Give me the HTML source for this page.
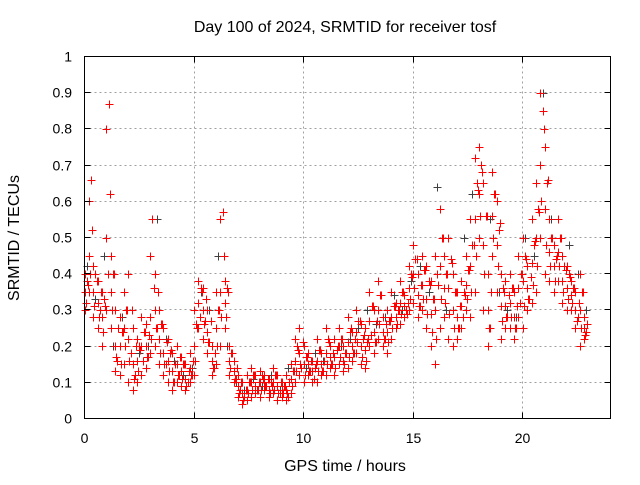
<!DOCTYPE html>
<html><head><meta charset="utf-8"><style>
body{margin:0;background:#fff}
svg text{font-family:"Liberation Sans",sans-serif;font-size:14px;fill:#000}
svg text.big{font-size:16px}
</style></head><body>
<svg id="chart" width="640" height="480">
<text class="big" x="345" y="32" text-anchor="middle">Day 100 of 2024, SRMTID for receiver tosf</text>
<text class="big" x="345" y="471" text-anchor="middle">GPS time / hours</text>
<text class="big" transform="translate(19,238) rotate(-90)" text-anchor="middle">SRMTID / TECUs</text>
<g id="grid" shape-rendering="crispEdges"></g>
<g id="black" shape-rendering="crispEdges"></g>
<g id="red" shape-rendering="crispEdges"></g>
<g id="axes" shape-rendering="crispEdges"></g>
</svg>
<script>
const xTicks=[0,5,10,15,20];
const yTicks=[0,0.1,0.2,0.3,0.4,0.5,0.6,0.7,0.8,0.9,1];
const yTickLabels=["0","0.1","0.2","0.3","0.4","0.5","0.6","0.7","0.8","0.9","1"];
const redStart=0, redStep=0.2;
const redUpper=[0.40,0.60,0.42,0.38,0.35,0.80,0.45,0.30,0.28,0.35,0.40,0.25,0.22,0.28,0.26,0.45,0.40,0.30,0.25,0.22,0.18,0.20,0.17,0.15,0.18,0.30,0.38,0.36,0.30,0.20,0.35,0.55,0.38,0.20,0.16,0.12,0.10,0.12,0.14,0.12,0.13,0.12,0.11,0.14,0.12,0.10,0.12,0.15,0.22,0.25,0.20,0.18,0.16,0.22,0.18,0.25,0.20,0.22,0.25,0.20,0.28,0.24,0.30,0.26,0.25,0.35,0.30,0.38,0.28,0.30,0.35,0.32,0.38,0.34,0.42,0.48,0.40,0.45,0.42,0.38,0.45,0.58,0.45,0.50,0.40,0.35,0.38,0.45,0.55,0.72,0.75,0.65,0.40,0.68,0.60,0.40,0.38,0.40,0.35,0.45,0.50,0.42,0.55,0.65,0.90,0.75,0.55,0.48,0.55,0.45,0.42,0.38,0.35,0.40,0.28];
const redLower=[0.30,0.35,0.28,0.25,0.20,0.30,0.25,0.13,0.12,0.15,0.10,0.08,0.10,0.12,0.14,0.18,0.20,0.15,0.12,0.10,0.08,0.10,0.09,0.08,0.10,0.12,0.25,0.22,0.18,0.12,0.15,0.20,0.25,0.12,0.10,0.06,0.04,0.05,0.06,0.07,0.06,0.08,0.06,0.07,0.05,0.06,0.05,0.07,0.10,0.12,0.10,0.12,0.10,0.10,0.12,0.12,0.14,0.12,0.15,0.13,0.14,0.16,0.18,0.15,0.14,0.20,0.18,0.22,0.20,0.18,0.22,0.25,0.26,0.28,0.30,0.32,0.28,0.30,0.25,0.20,0.15,0.25,0.28,0.22,0.20,0.22,0.25,0.30,0.28,0.35,0.50,0.30,0.20,0.45,0.35,0.22,0.25,0.25,0.22,0.28,0.25,0.30,0.32,0.35,0.50,0.40,0.38,0.35,0.38,0.32,0.30,0.30,0.25,0.20,0.22];
const redMid=[0.35,0.45,0.35,0.32,0.28,0.50,0.35,0.20,0.20,0.25,0.22,0.15,0.16,0.20,0.20,0.28,0.30,0.22,0.18,0.16,0.13,0.15,0.13,0.11,0.14,0.20,0.32,0.30,0.24,0.16,0.25,0.35,0.32,0.16,0.13,0.09,0.07,0.08,0.10,0.09,0.10,0.10,0.08,0.10,0.09,0.08,0.08,0.11,0.16,0.18,0.15,0.15,0.13,0.16,0.15,0.18,0.17,0.17,0.20,0.16,0.21,0.20,0.24,0.20,0.19,0.27,0.24,0.30,0.24,0.24,0.28,0.28,0.32,0.31,0.36,0.40,0.34,0.37,0.33,0.29,0.30,0.42,0.36,0.36,0.30,0.28,0.31,0.37,0.42,0.55,0.62,0.48,0.30,0.56,0.48,0.31,0.31,0.32,0.28,0.36,0.38,0.36,0.43,0.50,0.70,0.58,0.46,0.42,0.46,0.38,0.36,0.34,0.30,0.30,0.25];
const redExtra=[0.38,0.66,0.40,0.30,0.33,0.87,0.40,0.16,0.24,0.30,0.18,0.12,0.20,0.24,0.17,0.55,0.25,0.26,0.15,0.18,0.10,0.12,0.15,0.10,0.12,0.26,0.36,0.27,0.21,0.14,0.30,0.57,0.36,0.18,0.11,0.08,0.06,0.10,0.12,0.08,0.12,0.09,0.10,0.12,0.07,0.09,0.06,0.13,0.20,0.14,0.17,0.13,0.14,0.19,0.13,0.22,0.15,0.19,0.22,0.18,0.24,0.18,0.27,0.22,0.21,0.31,0.21,0.34,0.22,0.27,0.31,0.30,0.35,0.29,0.40,0.44,0.31,0.41,0.38,0.33,0.40,0.50,0.40,0.44,0.35,0.25,0.35,0.41,0.48,0.65,0.70,0.56,0.25,0.62,0.52,0.36,0.28,0.36,0.25,0.40,0.45,0.33,0.48,0.58,0.85,0.65,0.50,0.44,0.50,0.42,0.40,0.36,0.28,0.35,0.24];
const redQ1=[0.32,0.40,0.31,0.28,0.24,0.40,0.30,0.17,0.15,0.20,0.16,0.11,0.13,0.16,0.17,0.22,0.25,0.18,0.15,0.13,0.10,0.12,0.11,0.09,0.12,0.16,0.28,0.26,0.21,0.14,0.20,0.28,0.28,0.14,0.11,0.07,0.05,0.07,0.08,0.08,0.08,0.09,0.07,0.08,0.07,0.07,0.07,0.09,0.13,0.15,0.12,0.13,0.11,0.13,0.13,0.15,0.15,0.14,0.17,0.15,0.17,0.18,0.21,0.17,0.16,0.23,0.21,0.26,0.22,0.21,0.25,0.26,0.29,0.30,0.33,0.36,0.31,0.33,0.29,0.24,0.22,0.33,0.32,0.29,0.25,0.25,0.28,0.33,0.35,0.45,0.56,0.40,0.25,0.50,0.42,0.27,0.28,0.28,0.25,0.32,0.31,0.33,0.37,0.42,0.60,0.48,0.42,0.38,0.42,0.35,0.33,0.32,0.27,0.25,0.23];
const redQ3=[0.37,0.52,0.38,0.35,0.31,0.62,0.40,0.25,0.24,0.30,0.30,0.20,0.19,0.24,0.23,0.36,0.35,0.26,0.21,0.19,0.15,0.17,0.15,0.13,0.16,0.25,0.35,0.33,0.27,0.18,0.30,0.45,0.35,0.18,0.14,0.10,0.08,0.10,0.12,0.10,0.11,0.11,0.09,0.12,0.10,0.09,0.10,0.13,0.19,0.21,0.17,0.16,0.15,0.19,0.16,0.21,0.18,0.20,0.22,0.18,0.25,0.22,0.27,0.23,0.22,0.31,0.27,0.34,0.26,0.27,0.31,0.30,0.35,0.32,0.39,0.44,0.37,0.41,0.37,0.33,0.37,0.50,0.40,0.43,0.35,0.31,0.34,0.41,0.48,0.63,0.68,0.56,0.35,0.62,0.54,0.35,0.34,0.36,0.31,0.40,0.44,0.39,0.49,0.57,0.80,0.66,0.50,0.45,0.50,0.41,0.39,0.36,0.32,0.35,0.26];
const blackStart=0.1, blackStep=0.4;
const blackValues=[0.42,0.33,0.45,0.20,0.28,0.18,0.18,0.20,0.55,0.22,0.16,0.12,0.14,0.35,0.30,0.45,0.20,0.10,0.08,0.11,0.09,0.12,0.08,0.14,0.20,0.14,0.18,0.16,0.15,0.20,0.22,0.25,0.30,0.26,0.28,0.34,0.30,0.38,0.42,0.35,0.64,0.30,0.35,0.50,0.62,0.70,0.55,0.35,0.30,0.28,0.50,0.45,0.90,0.55,0.50,0.48,0.40,0.30];

const X0=84.5,X1=610.5,Y0=418.5,Y1=56.5,XMAX=24;
const xs=v=>X0+(X1-X0)*v/XMAX;
const ys=v=>Y0-(Y0-Y1)*v;
const NS="http://www.w3.org/2000/svg";
function mk(tag,attrs,parent){const e=document.createElementNS(NS,tag);for(const k in attrs)e.setAttribute(k,attrs[k]);parent.appendChild(e);return e;}
const grid=document.getElementById('grid'),axes=document.getElementById('axes');
xTicks.forEach(t=>{
  const x=Math.round(xs(t)-0.5)+0.5;
  if(t>0){const g=mk('line',{x1:x,x2:x,y1:Y0,y2:Y1,stroke:'#a0a0a0','stroke-dasharray':'2,3'},grid);
  
  }
  mk('line',{x1:x,x2:x,y1:Y0,y2:Y0-6,stroke:'#000'},axes);
  mk('line',{x1:x,x2:x,y1:Y1,y2:Y1+6,stroke:'#000'},axes);
  const l=mk('text',{x:x,y:443,'text-anchor':'middle'},axes);l.textContent=t;
  
  
});
yTicks.forEach((t,i)=>{
  const y=Math.round(ys(t)-0.5)+0.5;
  if(t>0&&t<1){const g=mk('line',{x1:X0,x2:X1,y1:y,y2:y,stroke:'#a0a0a0','stroke-dasharray':'2,3'},grid);
  
  }
  mk('line',{x1:X0,x2:X0+6,y1:y,y2:y,stroke:'#000'},axes);
  mk('line',{x1:X1,x2:X1-6,y1:y,y2:y,stroke:'#000'},axes);
  const l=mk('text',{x:72,y:y+5,'text-anchor':'end'},axes);l.textContent=yTickLabels[i];
  
  
});
mk('rect',{x:X0,y:Y1,width:X1-X0,height:Y0-Y1,fill:'none',stroke:'#000'},axes);
function plus(g,t,v,color){
  const x=Math.round(xs(t))+0.5,y=Math.round(ys(v))+0.5;
  const p=mk('path',{d:`M${x-4},${y}H${x+4}M${x},${y-4}V${y+4}`,stroke:color,'stroke-width':1,fill:'none'},g);
  
  
}
const bg=document.getElementById('black');
blackValues.forEach((v,i)=>plus(bg,blackStart+i*blackStep,v,'#404040'));
const rg=document.getElementById('red');
[redUpper,redLower,redMid].forEach(arr=>arr.forEach((v,i)=>plus(rg,redStart+i*redStep,v,'#ff0000')));
redExtra.forEach((v,i)=>plus(rg,redStart+redStep/2+i*redStep,v,'#ff0000'));
redQ1.forEach((v,i)=>plus(rg,redStart+redStep/4+i*redStep,v,'#ff0000'));
redQ3.forEach((v,i)=>plus(rg,redStart+3*redStep/4+i*redStep,v,'#ff0000'));
</script>
</body></html>
